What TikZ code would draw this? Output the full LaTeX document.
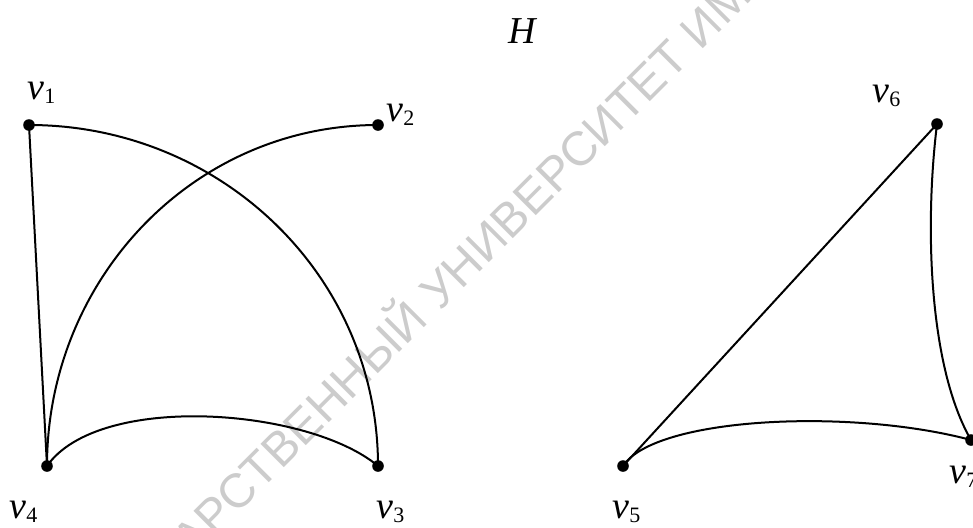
\documentclass[tikz,border=0pt]{standalone}
\usepackage{fontspec}
\setmainfont{Liberation Serif}
\newfontfamily\wmfont{Liberation Sans}
\usetikzlibrary{calc}
\definecolor{markGray}{gray}{0.80}
\newcommand{\vname}[1]{\textit{v}\raisebox{-0.13em}{\fontsize{11}{11}\selectfont #1}}

\begin{document}
\begin{tikzpicture}[x=0.5pt, y=0.5pt,
      vdot/.style={circle, fill=black, inner sep=0pt, minimum size=5.8pt},
      vlabel/.style={anchor=base west, inner sep=0pt, font=\fontsize{19}{22}\selectfont},
      link/.style={line width=1pt, draw=black},
      wmark/.style={rotate=45, inner sep=0pt, text=markGray,
                    font=\wmfont\fontsize{24}{28}\selectfont}]
    \useasboundingbox (0,0) rectangle (973,527);
    \clip (0,0) rectangle (973,527);
    % watermark
    \node[wmark, anchor=base west] (wm2) at (440,215) {УНИВЕРСИТЕТ ИМЕНИ};
    \node[wmark, anchor=base east] (wm1) at ($(wm2.base west)+(225:14)$) {ГОСУДАРСТВЕННЫЙ};
    % title
    \node[anchor=base, inner sep=0pt, font=\fontsize{19}{22}\selectfont] (title) at (523,484) {\textit{H}};
    % vertices
    \node[vdot] (v1) at (29,402) {};
    \node[vdot] (v2) at (378,402) {};
    \node[vdot] (v3) at (378,61) {};
    \node[vdot] (v4) at (47,61) {};
    \node[vdot] (v5) at (623,61) {};
    \node[vdot] (v6) at (937,403) {};
    \node[vdot] (v7) at (971,87) {};
    \node[vlabel] (l1) at (27,428) {\vname{1}};
    \node[vlabel] (l2) at (386,406) {\vname{2}};
    \node[vlabel] (l3) at (376,9) {\vname{3}};
    \node[vlabel] (l4) at (9,9) {\vname{4}};
    \node[vlabel] (l5) at (612,9) {\vname{5}};
    \node[vlabel] (l6) at (872,425) {\vname{6}};
    \node[vlabel] (l7) at (949,44) {\vname{7}};
    % edges
    \draw[link] (v1.center) -- (v4.center);
    \draw[link] (v1.center) to[out=0, in=90] (v3.center);
    \draw[link] (v2.center) to[out=180, in=90] (v4.center);
    \draw[link] (v4.center) to[out=55, in=140, looseness=0.7] (v3.center);
    \draw[link] (v5.center) -- (v6.center);
    \draw[link] (v6.center) to[out=-97, in=120, out looseness=0.83, in looseness=0.68] (v7.center);
    \draw[link] (v5.center) to[out=57, in=165, out looseness=0.43, in looseness=0.91] (v7.center);
  \end{tikzpicture}
\end{document}
